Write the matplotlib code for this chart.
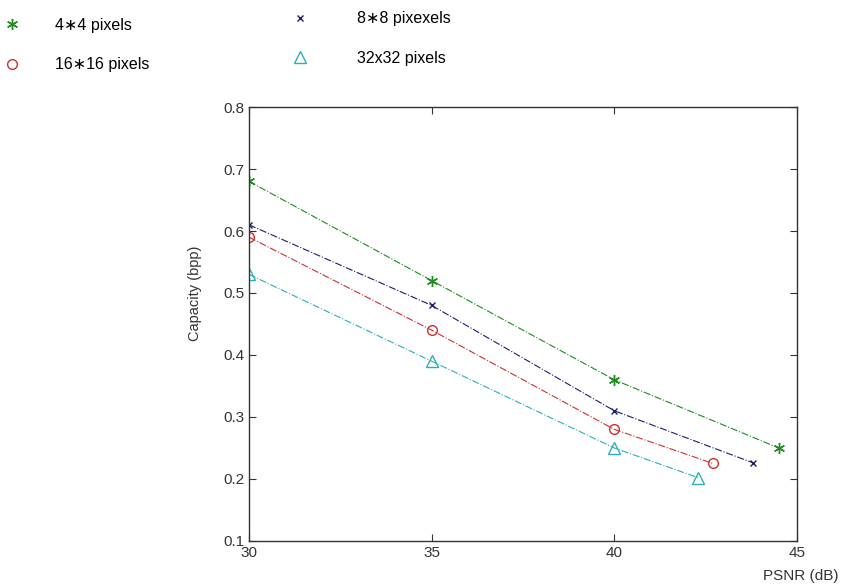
import numpy as np
import matplotlib
matplotlib.use("Agg")
import matplotlib.pyplot as plt

plt.rcParams['font.family'] = ['Liberation Sans', 'DejaVu Sans']

# Data
psnr_4 = [30, 35, 40, 44.5]
cap_4 = [0.68, 0.52, 0.36, 0.25]

psnr_8 = [30, 35, 40, 43.8]
cap_8 = [0.61, 0.48, 0.31, 0.226]

psnr_16 = [30, 35, 40, 42.7]
cap_16 = [0.59, 0.44, 0.28, 0.225]

psnr_32 = [30, 35, 40, 42.3]
cap_32 = [0.53, 0.39, 0.25, 0.202]

labels = ["4\u22174 pixels", "8\u22178 pixexels", "16\u221716 pixels", "32x32 pixels"]
xticks = [30, 35, 40, 45]
yticks = [0.1, 0.2, 0.3, 0.4, 0.5, 0.6, 0.7, 0.8]

fig = plt.figure(figsize=(8.43, 5.88), dpi=100)
ax = fig.add_axes([0.2954, 0.080, 0.650, 0.738])

l4, = ax.plot(psnr_4, cap_4, linestyle='-.', color='#1e8c1e', marker=(6, 2, 0),
              markersize=8, linewidth=0.8, label=labels[0])
l8, = ax.plot(psnr_8, cap_8, linestyle='-.', color='#1c1c70', marker='x',
              markersize=5, linewidth=0.8, label=labels[1])
l16, = ax.plot(psnr_16, cap_16, linestyle='-.', color='#cc3030', marker='o',
               markersize=7, markerfacecolor='none', linewidth=0.8, label=labels[2])
l32, = ax.plot(psnr_32, cap_32, linestyle='-.', color='#2ab0b8', marker='^',
               markersize=8, markerfacecolor='none', linewidth=0.8, label=labels[3])

ax.set_xlim(30, 45)
ax.set_ylim(0.1, 0.8)
ax.set_xticks(xticks)
ax.set_yticks(yticks)
ax.set_xticklabels([str(t) for t in xticks])
ax.set_yticklabels([f"{t:.1f}" for t in yticks])
ax.tick_params(direction='in', length=5, labelsize=11, colors='#333333',
               top=True, right=True)
for s in ax.spines.values():
    s.set_color('#333333')
    s.set_linewidth(1.0)

ax.set_ylabel("Capacity (bpp)", fontsize=10.5, color='#333333')
ax.yaxis.set_label_coords(-0.085, 0.57)
fig.text(0.995, 0.02, "PSNR (dB)", ha='right', va='center', fontsize=11,
         color='#333333')

# legend in two separate columns above the axes
leg1 = fig.legend([l4, l16], [labels[0], labels[2]], loc='upper left',
                  bbox_to_anchor=(-0.016, 1.0), frameon=False, fontsize=11.5,
                  handlelength=1.0, handletextpad=2.2, labelspacing=1.55,
                  borderaxespad=0.7)
leg2 = fig.legend([l8, l32], [labels[1], labels[3]], loc='upper left',
                  bbox_to_anchor=(0.3335, 1.0), frameon=False, fontsize=11.5,
                  handlelength=1.0, handletextpad=3.07, labelspacing=1.55,
                  borderaxespad=0.3)
for lg in (leg1, leg2):
    for h in lg.legend_handles:
        h.set_linestyle('none')

fig.savefig("out.png", dpi=100)
